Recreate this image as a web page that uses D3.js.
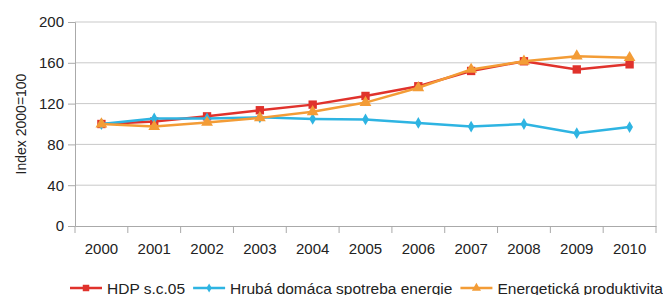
<!DOCTYPE html>
<html>
<head>
<meta charset="utf-8">
<script src="https://cdn.jsdelivr.net/npm/d3@7"></script>
<style>
  body { margin: 0; background: #fff; }
  text { font-family: "Liberation Sans", Arial, sans-serif; fill: #222; }
</style>
</head>
<body>
<div id="chart"></div>
<script>
// data
var years = ["2000", "2001", "2002", "2003", "2004", "2005", "2006", "2007", "2008", "2009", "2010"];
var hdp = [100, 102.5, 107.5, 113.5, 119, 127.5, 137, 152, 161.5, 153.5, 158.5];
var spotreba = [100, 105.5, 105.5, 106.5, 105, 104.5, 101, 97.5, 100, 91, 97];
var produktivita = [100, 97.5, 101.5, 106, 112, 121, 135.5, 153.5, 161.5, 166.5, 165];
var yTicks = [0, 40, 80, 120, 160, 200];
var seriesNames = ["HDP s.c.05", "Hrubá domáca spotreba energie", "Energetická produktivita"];

var svgWidth = 663, svgHeight = 295;
var margin = { top: 22, right: 7, bottom: 69, left: 75 };
var chartWidth = svgWidth - margin.left - margin.right;
var chartHeight = svgHeight - margin.top - margin.bottom;

var svg = d3.select("#chart").append("svg")
  .attr("width", svgWidth)
  .attr("height", svgHeight);

var chartGroup = svg.append("g")
  .attr("transform", `translate(${margin.left}, ${margin.top})`);

var xScale = d3.scaleBand().domain(years).range([0, chartWidth]).padding(0);
var yScale = d3.scaleLinear().domain([0, 200]).range([chartHeight, 0]);

// gridlines
chartGroup.append("g").selectAll("line")
  .data(yTicks.slice(1))
  .enter().append("line")
  .attr("x1", 0).attr("x2", chartWidth)
  .attr("y1", d => yScale(d)).attr("y2", d => yScale(d))
  .attr("stroke", "#c9c9c9").attr("stroke-width", 1);

// right frame
chartGroup.append("line")
  .attr("x1", chartWidth).attr("x2", chartWidth)
  .attr("y1", 0).attr("y2", chartHeight)
  .attr("stroke", "#c9c9c9");

// y axis
var yAxis = d3.axisLeft(yScale).tickValues(yTicks).tickSize(7).tickPadding(4);
var yG = chartGroup.append("g").call(yAxis);
yG.select(".domain").attr("stroke", "#aaa");
yG.selectAll(".tick line").attr("stroke", "#aaa");
yG.selectAll("text").style("font-size", "15px").attr("fill", "#222");

// x axis: labels centred in bands, ticks at band edges
var xAxis = d3.axisBottom(xScale).tickSize(0).tickPadding(17);
var xG = chartGroup.append("g")
  .attr("transform", `translate(0, ${chartHeight})`)
  .call(xAxis);
xG.select(".domain").attr("stroke", "#aaa");
xG.selectAll("text").style("font-size", "15px").attr("fill", "#222");

var edges = years.map(d => xScale(d)).concat([chartWidth]);
xG.selectAll(".edge").data(edges).enter().append("line")
  .attr("class", "edge")
  .attr("x1", d => d).attr("x2", d => d)
  .attr("y1", 0).attr("y2", 7)
  .attr("stroke", "#aaa");

// y title
svg.append("text")
  .attr("transform", `translate(26, ${margin.top + chartHeight / 2}) rotate(-90)`)
  .attr("text-anchor", "middle")
  .style("font-size", "14px")
  .text("Index 2000=100");

var cx = d => xScale(d) + xScale.bandwidth() / 2;

var series = [
  { name: seriesNames[0], values: hdp, color: "#e0322c", marker: d3.symbolSquare, size: 70 },
  { name: seriesNames[1], values: spotreba, color: "#2eb4e2", marker: d3.symbolDiamond, size: 40 },
  { name: seriesNames[2], values: produktivita, color: "#f39c36", marker: d3.symbolTriangle, size: 60 }
];

var line = d3.line()
  .x((d, i) => cx(years[i]))
  .y(d => yScale(d));

series.forEach(function(s) {
  chartGroup.append("path")
    .datum(s.values)
    .attr("fill", "none")
    .attr("stroke", s.color)
    .attr("stroke-width", 2.5)
    .attr("d", line);

  chartGroup.append("g").selectAll("path")
    .data(s.values)
    .enter().append("path")
    .attr("transform", (d, i) => `translate(${cx(years[i])}, ${yScale(d)})`)
    .attr("d", d3.symbol().type(s.marker).size(s.size))
    .attr("fill", s.color);
});

// legend
var legend = svg.append("g").attr("transform", "translate(70, 288)");
var lx = 0;
series.forEach(function(s) {
  var item = legend.append("g").attr("transform", `translate(${lx}, 0)`);
  item.append("line")
    .attr("x1", 0).attr("x2", 32).attr("y1", 0).attr("y2", 0)
    .attr("stroke", s.color).attr("stroke-width", 2.5);
  item.append("path")
    .attr("transform", "translate(16, 0)")
    .attr("d", d3.symbol().type(s.marker).size(s.size * 0.6))
    .attr("fill", s.color);
  var t = item.append("text")
    .attr("x", 37).attr("y", 5.5)
    .style("font-size", "15.5px")
    .text(s.name);
  lx += 37 + t.node().getComputedTextLength() + 8;
});
</script>
</body>
</html>
